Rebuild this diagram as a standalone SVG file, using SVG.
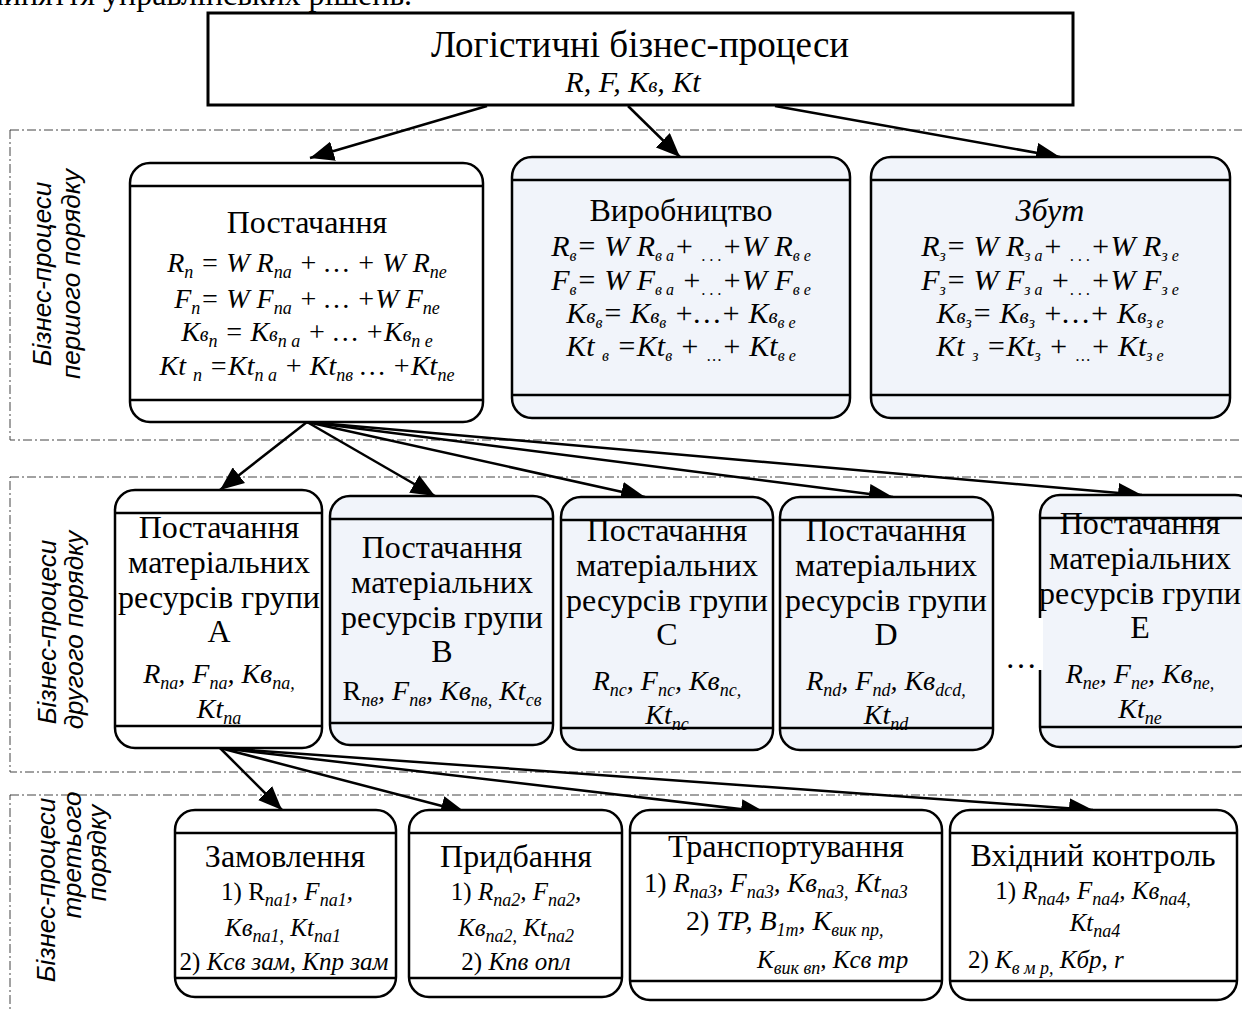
<svg xmlns="http://www.w3.org/2000/svg" width="1242" height="1012" viewBox="0 0 1242 1012">
<defs>
<marker id="ah" markerUnits="userSpaceOnUse" markerWidth="26" markerHeight="20" refX="24" refY="10" orient="auto">
<path d="M0,0 L24,10 L0,20 z" fill="#000"/>
</marker>
<style>
.t{font-family:"Liberation Serif","Times New Roman",serif;font-size:32px;fill:#000}
.i{font-family:"Liberation Serif","Times New Roman",serif;font-style:italic;font-size:28px;fill:#000}
.p{font-family:"Liberation Serif","Times New Roman",serif;font-style:italic;font-size:25px;fill:#000}
.s{font-size:18px;baseline-shift:-6px}
.s2{font-size:16px;baseline-shift:-5px}
.lab{font-family:"Liberation Sans",Arial,sans-serif;font-style:italic;font-size:26px;fill:#000}
.box{stroke:#000;stroke-width:2.5;fill:#fff}
.lb{stroke:#000;stroke-width:2.5;fill:#f1f4fa}
.ln{stroke:#000;stroke-width:2.5}
.grp{fill:none;stroke:#444;stroke-width:1;stroke-dasharray:9 3 2 3}
.c{stroke:#000;stroke-width:2.5;fill:none;marker-end:url(#ah)}
.f{font-size:30px}
</style>
</defs>
<rect width="1242" height="1012" fill="#fff"/>
<text class="t" x="412" y="5" text-anchor="end">прийняття управлінських рішень.</text>

<g id="groups">
<rect class="grp" x="10" y="130" width="1250" height="310"/>
<rect class="grp" x="10" y="477" width="1250" height="295"/>
<rect class="grp" x="10" y="795" width="1250" height="240"/>
<text class="lab" text-anchor="middle" transform="translate(51,274) rotate(-90)">Бізнес-процеси</text>
<text class="lab" text-anchor="middle" transform="translate(80,274) rotate(-90)">першого порядку</text>
<text class="lab" text-anchor="middle" transform="translate(56,632) rotate(-90)">Бізнес-процеси</text>
<text class="lab" text-anchor="middle" transform="translate(83,630) rotate(-90)">другого порядку</text>
<text class="lab" text-anchor="middle" transform="translate(55,890) rotate(-90)">Бізнес-процеси</text>
<text class="lab" text-anchor="middle" transform="translate(81,855) rotate(-90)">третього</text>
<text class="lab" text-anchor="middle" transform="translate(106,853) rotate(-90)">порядку</text>
</g>

<g id="connectors">
<line class="c" x1="487" y1="106" x2="310" y2="158"/>
<line class="c" x1="628" y1="106" x2="680" y2="157"/>
<line class="c" x1="775" y1="106" x2="1060" y2="157"/>
<line class="c" x1="307" y1="422" x2="220" y2="490"/>
<line class="c" x1="307" y1="422" x2="435" y2="496"/>
<line class="c" x1="307" y1="422" x2="645" y2="497"/>
<line class="c" x1="307" y1="422" x2="893" y2="497"/>
<line class="c" x1="307" y1="422" x2="1142" y2="495"/>
<line class="c" x1="220" y1="748" x2="282" y2="810"/>
<line class="c" x1="220" y1="748" x2="465" y2="812"/>
<line class="c" x1="220" y1="748" x2="765" y2="812"/>
<line class="c" x1="220" y1="748" x2="1093" y2="810"/>
</g>

<g id="n-top">
<rect x="208" y="13" width="865" height="92" fill="#fff" stroke="#000" stroke-width="3"/>
<text class="t" x="640" y="57" text-anchor="middle" style="font-size:37px">Логістичні бізнес-процеси</text>
<text class="i" x="633" y="92" text-anchor="middle" style="font-size:30px">R, F, K<tspan style="font-size:21px">в</tspan>, Kt</text>
</g>

<g id="n-postach">
<rect class="box" x="130" y="163" width="353" height="259" rx="20"/>
<line class="ln" x1="130" y1="186" x2="483" y2="186"/>
<line class="ln" x1="130" y1="400" x2="483" y2="400"/>
<text class="t" x="307" y="233" text-anchor="middle">Постачання</text>
<text class="i" x="307" y="272" text-anchor="middle">R<tspan class="s">n</tspan> = W R<tspan class="s">na</tspan> + … + W R<tspan class="s">ne</tspan></text>
<text class="i" x="307" y="308" text-anchor="middle">F<tspan class="s">n</tspan>= W F<tspan class="s">na</tspan> + … +W F<tspan class="s">ne</tspan></text>
<text class="i" x="307" y="341" text-anchor="middle">K<tspan style="font-size:20px">в</tspan><tspan class="s">n</tspan> = K<tspan style="font-size:20px">в</tspan><tspan class="s">n a</tspan> + …  +K<tspan style="font-size:20px">в</tspan><tspan class="s">n e</tspan></text>
<text class="i" x="307" y="375" text-anchor="middle">Kt <tspan class="s">n</tspan> =Kt<tspan class="s">n a</tspan> + Kt<tspan class="s">nв</tspan> … +Kt<tspan class="s">ne</tspan></text>
</g>

<g id="n-vyrob">
<rect class="lb" x="512" y="157" width="338" height="261" rx="20"/>
<line class="ln" x1="512" y1="180" x2="850" y2="180"/>
<line class="ln" x1="512" y1="395" x2="850" y2="395"/>
<text class="t" x="681" y="221" text-anchor="middle">Виробництво</text>
<text class="i f" x="681" y="256" text-anchor="middle">R<tspan class="s2">в</tspan>= W R<tspan class="s2">в a</tspan>+ <tspan class="s2">. . .</tspan>+W R<tspan class="s2">в e</tspan></text>
<text class="i f" x="681" y="290" text-anchor="middle">F<tspan class="s2">в</tspan>= W F<tspan class="s2">в a</tspan> +<tspan class="s2">. . .</tspan>+W F<tspan class="s2">в e</tspan></text>
<text class="i f" x="681" y="323" text-anchor="middle">K<tspan style="font-size:21px">в</tspan><tspan class="s2">в</tspan>= K<tspan style="font-size:21px">в</tspan><tspan class="s2">в</tspan>  +…+ K<tspan style="font-size:21px">в</tspan><tspan class="s2">в e</tspan></text>
<text class="i f" x="681" y="356" text-anchor="middle">Kt <tspan class="s2">в</tspan> =Kt<tspan class="s2">в</tspan> + <tspan class="s2">…</tspan>+ Kt<tspan class="s2">в e</tspan></text>
</g>

<g id="n-zbut">
<rect class="lb" x="871" y="157" width="359" height="261" rx="20"/>
<line class="ln" x1="871" y1="180" x2="1230" y2="180"/>
<line class="ln" x1="871" y1="395" x2="1230" y2="395"/>
<text class="t" x="1050" y="221" text-anchor="middle" style="font-style:italic">Збут</text>
<text class="i f" x="1050" y="256" text-anchor="middle">R<tspan class="s2">з</tspan>= W R<tspan class="s2">з a</tspan>+ <tspan class="s2">. . .</tspan>+W R<tspan class="s2">з e</tspan></text>
<text class="i f" x="1050" y="290" text-anchor="middle">F<tspan class="s2">з</tspan>= W F<tspan class="s2">з a</tspan> +<tspan class="s2">. . .</tspan>+W F<tspan class="s2">з e</tspan></text>
<text class="i f" x="1050" y="323" text-anchor="middle">K<tspan style="font-size:21px">в</tspan><tspan class="s2">з</tspan>= K<tspan style="font-size:21px">в</tspan><tspan class="s2">з</tspan>  +…+ K<tspan style="font-size:21px">в</tspan><tspan class="s2">з e</tspan></text>
<text class="i f" x="1050" y="356" text-anchor="middle">Kt <tspan class="s2">з</tspan> =Kt<tspan class="s2">з</tspan> + <tspan class="s2">…</tspan>+ Kt<tspan class="s2">з e</tspan></text>
</g>

<g id="n-a">
<rect class="box" x="115" y="490" width="207" height="258" rx="20"/>
<line class="ln" x1="115" y1="513" x2="322" y2="513"/>
<line class="ln" x1="115" y1="726" x2="322" y2="726"/>
<text class="t" x="219" y="538" text-anchor="middle">Постачання</text>
<text class="t" x="219" y="573" text-anchor="middle">матеріальних</text>
<text class="t" x="219" y="608" text-anchor="middle">ресурсів групи</text>
<text class="t" x="219" y="642" text-anchor="middle">А</text>
<text class="i" x="219" y="683" text-anchor="middle">R<tspan class="s">na</tspan>, F<tspan class="s">na</tspan>, Kв<tspan class="s">na,</tspan></text>
<text class="i" x="219" y="718" text-anchor="middle">Kt<tspan class="s">na</tspan></text>
</g>

<g id="n-b">
<rect class="lb" x="330" y="496" width="223" height="249" rx="20"/>
<line class="ln" x1="330" y1="519" x2="553" y2="519"/>
<line class="ln" x1="330" y1="723" x2="553" y2="723"/>
<text class="t" x="442" y="558" text-anchor="middle">Постачання</text>
<text class="t" x="442" y="593" text-anchor="middle">матеріальних</text>
<text class="t" x="442" y="628" text-anchor="middle">ресурсів групи</text>
<text class="t" x="442" y="662" text-anchor="middle">В</text>
<text class="i" x="442" y="700" text-anchor="middle"><tspan style="font-style:normal">R</tspan><tspan class="s">пв</tspan>, F<tspan class="s">пв</tspan>, Kв<tspan class="s">пв,</tspan> Kt<tspan class="s">св</tspan></text>
</g>

<g id="n-c">
<rect class="lb" x="561" y="497" width="212" height="253" rx="20"/>
<line class="ln" x1="561" y1="520" x2="773" y2="520"/>
<line class="ln" x1="561" y1="728" x2="773" y2="728"/>
<text class="t" x="667" y="541" text-anchor="middle">Постачання</text>
<text class="t" x="667" y="576" text-anchor="middle">матеріальних</text>
<text class="t" x="667" y="611" text-anchor="middle">ресурсів групи</text>
<text class="t" x="667" y="645" text-anchor="middle">С</text>
<text class="i" x="667" y="690" text-anchor="middle">R<tspan class="s">nc</tspan>, F<tspan class="s">nc</tspan>, Kв<tspan class="s">nc,</tspan></text>
<text class="i" x="667" y="724" text-anchor="middle">Kt<tspan class="s">nc</tspan></text>
</g>

<g id="n-d">
<rect class="lb" x="780" y="497" width="213" height="253" rx="20"/>
<line class="ln" x1="780" y1="520" x2="993" y2="520"/>
<line class="ln" x1="780" y1="728" x2="993" y2="728"/>
<text class="t" x="886" y="541" text-anchor="middle">Постачання</text>
<text class="t" x="886" y="576" text-anchor="middle">матеріальних</text>
<text class="t" x="886" y="611" text-anchor="middle">ресурсів групи</text>
<text class="t" x="886" y="645" text-anchor="middle">D</text>
<text class="i" x="886" y="690" text-anchor="middle">R<tspan class="s">nd</tspan>, F<tspan class="s">nd</tspan>, Kв<tspan class="s">dcd,</tspan></text>
<text class="i" x="886" y="724" text-anchor="middle">Kt<tspan class="s">nd</tspan></text>
</g>

<g id="n-e">
<rect class="lb" x="1040" y="495" width="215" height="252" rx="20"/>
<line class="ln" x1="1040" y1="518" x2="1242" y2="518"/>
<line class="ln" x1="1040" y1="727" x2="1242" y2="727"/>
<text class="t" x="1140" y="534" text-anchor="middle">Постачання</text>
<text class="t" x="1140" y="569" text-anchor="middle">матеріальних</text>
<text class="t" x="1140" y="604" text-anchor="middle">ресурсів групи</text>
<text class="t" x="1140" y="638" text-anchor="middle">Е</text>
<text class="i" x="1140" y="683" text-anchor="middle">R<tspan class="s">ne</tspan>, F<tspan class="s">ne</tspan>, Kв<tspan class="s">ne,</tspan></text>
<text class="i" x="1140" y="718" text-anchor="middle">Kt<tspan class="s">ne</tspan></text>
</g>
<g id="dots">
<rect x="1002" y="618" width="41" height="52" fill="#fff"/>
<text class="t" x="1021" y="668" text-anchor="middle">…</text>
</g>

<g id="n-zam">
<rect class="box" x="175" y="810" width="221" height="187" rx="20"/>
<line class="ln" x1="175" y1="833" x2="396" y2="833"/>
<line class="ln" x1="175" y1="978" x2="396" y2="978"/>
<text class="t" x="285" y="867" text-anchor="middle">Замовлення</text>
<text class="p" x="287" y="900" text-anchor="middle"><tspan style="font-style:normal">1) R</tspan><tspan class="s">na1</tspan>, F<tspan class="s">na1</tspan>,</text>
<text class="p" x="283" y="936" text-anchor="middle">Kв<tspan class="s">na1,</tspan> Kt<tspan class="s">na1</tspan></text>
<text class="p" x="284" y="970" text-anchor="middle"><tspan style="font-style:normal">2)</tspan> Kсв зам, Kпр зам</text>
</g>

<g id="n-prydb">
<rect class="box" x="409" y="810" width="213" height="187" rx="20"/>
<line class="ln" x1="409" y1="833" x2="622" y2="833"/>
<line class="ln" x1="409" y1="978" x2="622" y2="978"/>
<text class="t" x="516" y="867" text-anchor="middle">Придбання</text>
<text class="p" x="516" y="900" text-anchor="middle"><tspan style="font-style:normal">1)</tspan> R<tspan class="s">na2</tspan>, F<tspan class="s">na2</tspan>,</text>
<text class="p" x="516" y="936" text-anchor="middle">Kв<tspan class="s">na2,</tspan> Kt<tspan class="s">na2</tspan></text>
<text class="p" x="516" y="970" text-anchor="middle"><tspan style="font-style:normal">2)</tspan> Kпв опл</text>
</g>

<g id="n-trans">
<rect class="box" x="630" y="810" width="312" height="190" rx="20"/>
<line class="ln" x1="630" y1="833" x2="942" y2="833"/>
<line class="ln" x1="630" y1="981" x2="942" y2="981"/>
<text class="t" x="786" y="857" text-anchor="middle">Транспортування</text>
<text class="p" x="644" y="892" style="font-size:27px"><tspan style="font-style:normal">1)</tspan>  R<tspan class="s">na3</tspan>, F<tspan class="s">na3</tspan>, Kв<tspan class="s">na3,</tspan> Kt<tspan class="s">na3</tspan></text>
<text class="p" x="686" y="930" style="font-size:28px"><tspan style="font-style:normal">2)</tspan> TP, B<tspan class="s">1m</tspan>, K<tspan class="s">вик пр,</tspan></text>
<text class="p" x="757" y="968">K<tspan class="s">вик вп</tspan>, Kсв тр</text>
</g>

<g id="n-vkhid">
<rect class="box" x="950" y="810" width="287" height="190" rx="20"/>
<line class="ln" x1="950" y1="833" x2="1237" y2="833"/>
<line class="ln" x1="950" y1="981" x2="1237" y2="981"/>
<text class="t" x="1093" y="866" text-anchor="middle">Вхідний контроль</text>
<text class="p" x="1093" y="899" text-anchor="middle"><tspan style="font-style:normal">1)</tspan> R<tspan class="s">na4</tspan>, F<tspan class="s">na4</tspan>, Kв<tspan class="s">na4,</tspan></text>
<text class="p" x="1095" y="931" text-anchor="middle">Kt<tspan class="s">na4</tspan></text>
<text class="p" x="968" y="968"><tspan style="font-style:normal">2)</tspan>  K<tspan class="s">в м р,</tspan> Kбр,  r</text>
</g>
</svg>
